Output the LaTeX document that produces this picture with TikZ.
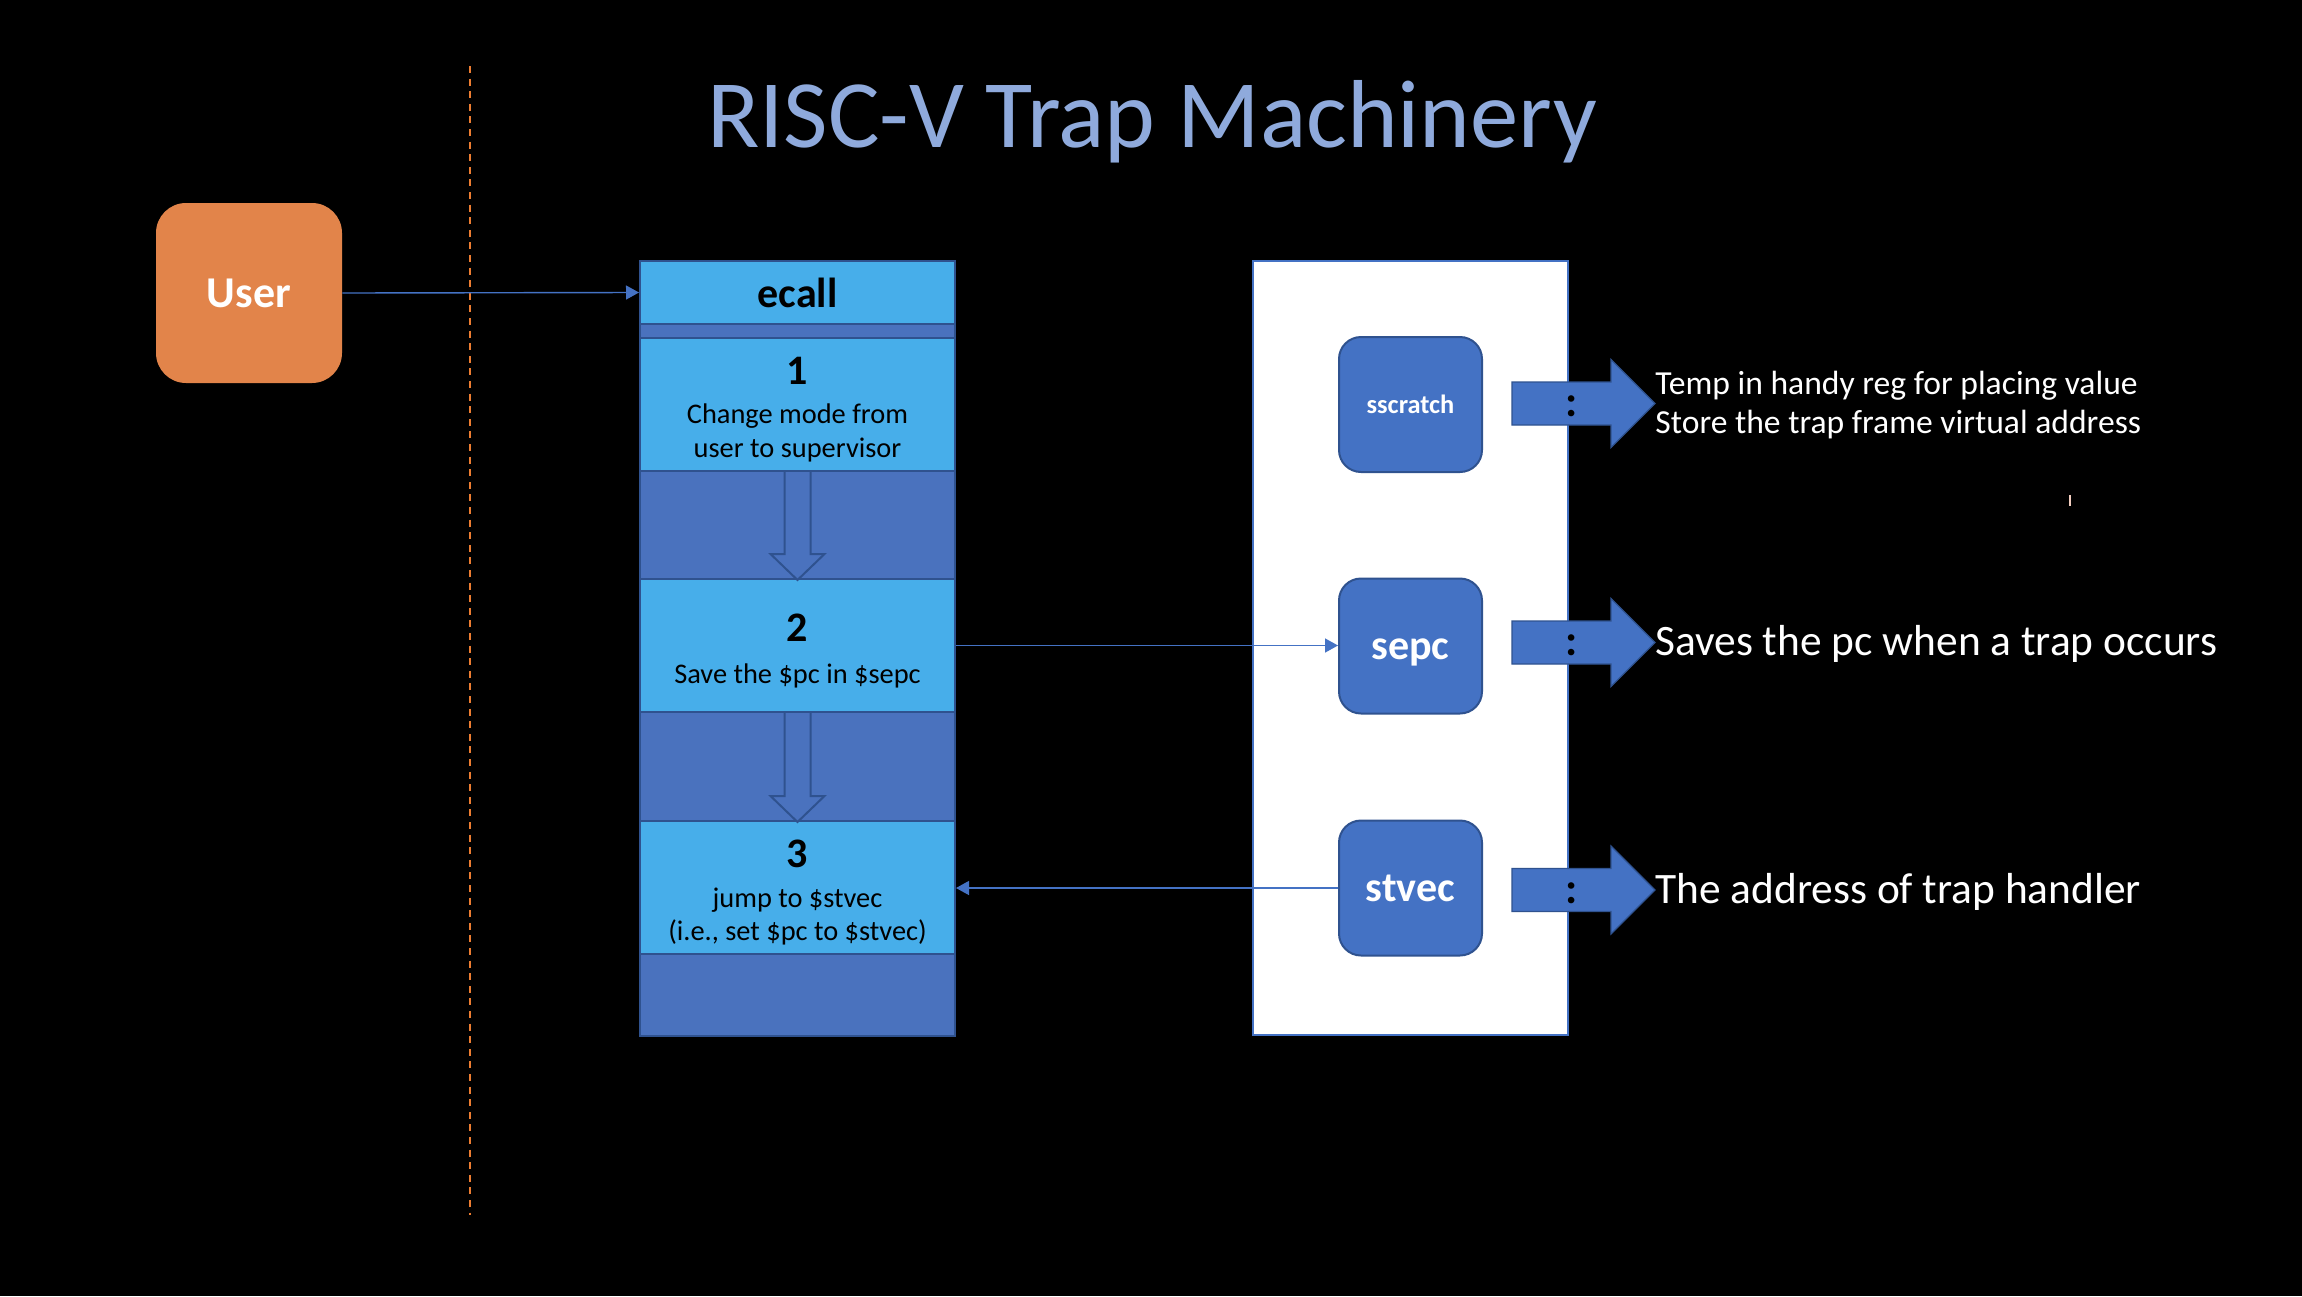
\documentclass[tikz,border=0pt]{standalone}
\usepackage{fontspec}
\setmainfont{Carlito}
\usetikzlibrary{arrows.meta}
\definecolor{lightcell}{HTML}{47AEEA}
\definecolor{darkcell}{HTML}{4A72BE}
\definecolor{edgeblue}{HTML}{2F528F}
\definecolor{accent}{HTML}{4472C4}
\definecolor{userorange}{HTML}{E2844A}
\definecolor{dashorange}{HTML}{ED7D31}
\definecolor{titleblue}{HTML}{8FAADC}
\definecolor{tickpink}{HTML}{F2CDBF}
\newcommand\myfs[2]{\fontsize{#1}{#2}\selectfont}
\begin{document}
\begin{tikzpicture}[x=0.5pt,y=-0.5pt,
  cell/.style={draw=edgeblue, line width=1pt, minimum width=157.5pt, inner sep=0pt, anchor=center},
  lcell/.style={cell, fill=lightcell},
  dcell/.style={cell, fill=darkcell},
  celltxt/.style={anchor=base, inner sep=0pt, text=black, font=\myfs{14.2}{17}},
  cellnum/.style={anchor=base, inner sep=0pt, text=black, font=\bfseries\myfs{21}{25}},
  hollow/.style={draw=edgeblue, line width=1pt, fill=darkcell},
  register/.style={rounded corners=11pt, fill=accent, draw=edgeblue, line width=1pt,
    minimum width=71.5pt, minimum height=67.5pt, inner sep=0pt, text=white, text depth=0pt},
  conn/.style={draw=accent, line width=0.7pt, -{Triangle[length=6.5pt,width=7pt]}},
  blockfill/.style={fill=accent, draw=edgeblue, line width=0.6pt},
  blockarr/.pic={\path[blockfill] (0,-21.5) -- (99,-21.5) -- (99,-44) -- (143,0) -- (99,44) -- (99,21.5) -- (0,21.5) -- cycle;},
  colon/.style={inner sep=0pt, text=black, font=\bfseries\myfs{22}{24}},
  desc/.style={anchor=base west, inner sep=0pt, text=white, font=\myfs{16.8}{19.5}},
  bigdesc/.style={anchor=base west, inner sep=0pt, text=white, font=\myfs{21.7}{26}}
]
\useasboundingbox (0,0) rectangle (2302,1296);
\fill[black] (0,0) rectangle (2302,1296);

% title
\node[anchor=base, inner sep=0pt, text=titleblue, font=\myfs{48.3}{56}] (title) at (1152,147) {RISC-V Trap Machinery};

% dashed separator
\coordinate (dtop) at (470,66);
\coordinate (dbot) at (470,1215);
\draw[dashorange, line width=1pt, dash pattern=on 3.5pt off 2.8pt] (dtop) -- (dbot);

% user
\node[rounded corners=15pt, fill=userorange, minimum width=93pt, minimum height=90pt, inner sep=0pt,
  text=white, font=\bfseries\myfs{22}{26}, text height=14pt, text depth=0pt] (user) at (249,293) {User};

% column of cells
\node[lcell, minimum height=31.5pt] (ecall) at (797.5,292.5) {};
\node[dcell, minimum height=7pt] (band0) at (797.5,331) {};
\node[lcell, minimum height=66.5pt] (box1) at (797.5,404.5) {};
\node[dcell, minimum height=54pt] (gap1) at (797.5,525) {};
\node[lcell, minimum height=66.5pt] (box2) at (797.5,645.5) {};
\node[dcell, minimum height=54.5pt] (gap2) at (797.5,766.5) {};
\node[lcell, minimum height=66.5pt] (box3) at (797.5,887.5) {};
\node[dcell, minimum height=41pt] (gap3) at (797.5,995) {};

\node[cellnum] (tecall) at (797.5,307) {ecall};
\node[cellnum] (n1) at (797.5,384) {1};
\node[celltxt] (t1a) at (797.5,423) {Change mode from};
\node[celltxt] (t1b) at (797.5,457) {user to supervisor};
\node[cellnum] (n2) at (797.5,641) {2};
\node[celltxt] (t2) at (797.5,683) {Save the \$pc in \$sepc};
\node[cellnum] (n3) at (797.5,867) {3};
\node[celltxt] (t3a) at (797.5,907) {jump to \$stvec};
\node[celltxt] (t3b) at (797.5,940) {(i.e., set \$pc to \$stvec)};

% hollow down arrows
\draw[hollow] ([xshift=-6.5pt]box1.south) -- ([xshift=-6.5pt,yshift=13pt]gap1.south)
  -- ([xshift=-13.5pt,yshift=13pt]gap1.south) -- (gap1.south)
  -- ([xshift=13.5pt,yshift=13pt]gap1.south) -- ([xshift=6.5pt,yshift=13pt]gap1.south)
  -- ([xshift=6.5pt]box1.south);
\draw[hollow] ([xshift=-6.5pt]box2.south) -- ([xshift=-6.5pt,yshift=13pt]gap2.south)
  -- ([xshift=-13.5pt,yshift=13pt]gap2.south) -- (gap2.south)
  -- ([xshift=13.5pt,yshift=13pt]gap2.south) -- ([xshift=6.5pt,yshift=13pt]gap2.south)
  -- ([xshift=6.5pt]box2.south);

% register panel
\node[fill=white, draw=accent, line width=1pt, minimum width=157.5pt, minimum height=387pt, inner sep=0pt] (panel) at (1410.5,648) {};
\node[register, font=\bfseries\myfs{13.2}{16}, text height=8.5pt] (sscratch) at (1410.5,404.5) {sscratch};
\node[register, font=\bfseries\myfs{21}{25}, text height=13pt] (sepc) at (1410.5,646) {sepc};
\node[register, font=\bfseries\myfs{21}{25}, text height=13pt] (stvec) at (1410.5,888) {stvec};

% connectors
\draw[conn] (user.east) -- (ecall.west);
\draw[conn] (box2.east) -- (box2.east -| sepc.west);
\draw[conn] (stvec.west) -- (stvec.west -| box3.east);

% block arrows
\pic at (1512,403.5) {blockarr};
\pic at (1512,642.5) {blockarr};
\pic at (1512,890) {blockarr};
\node[colon] (c1) at (1572,406.5) {:};
\node[colon] (c2) at (1572,645.5) {:};
\node[colon] (c3) at (1572,893) {:};

% descriptions
\node[desc] (d1a) at (1655,394) {Temp in handy reg for placing value};
\node[desc] (d1b) at (1655,433) {Store the trap frame virtual address};
\node[bigdesc] (d2) at (1655,655) {Saves the pc when a trap occurs};
\node[bigdesc] (d3) at (1655,903) {The address of trap handler};

% small tick
\coordinate (ticktop) at (2070,495);
\coordinate (tickbot) at (2070,506);
\draw[tickpink, line width=1pt] (ticktop) -- (tickbot);
\end{tikzpicture}
\end{document}
